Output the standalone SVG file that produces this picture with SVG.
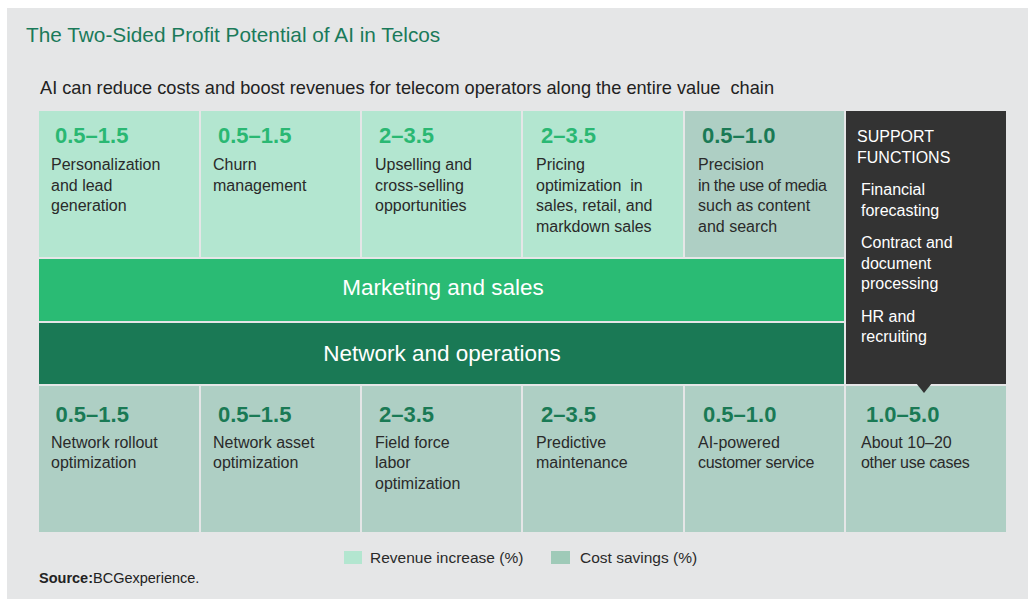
<svg xmlns="http://www.w3.org/2000/svg" width="1029" height="599" viewBox="0 0 1029 599">
<style>
text{font-family:"Liberation Sans",Arial,sans-serif}
.rev{fill:#b3e6d0}
.cost{fill:#aecfc4}
.vr{font-size:22px;font-weight:bold;fill:#2ab873}
.vc{font-size:22px;font-weight:bold;fill:#1a7a55}
.d{font-size:16px;fill:#2a2a2a}
.s{font-size:16px;fill:#ffffff}
.band{font-size:22.5px;fill:#ffffff;text-anchor:middle}
.lg{font-size:15.5px;fill:#2a2a2a}
</style>
<rect x="0" y="0" width="1029" height="599" fill="#ffffff"/>
<rect x="7" y="8" width="1021" height="591" fill="#e5e6e7"/>
<text x="26" y="42" font-size="20.8" fill="#1a7a5a">The Two-Sided Profit Potential of AI in Telcos</text>
<text x="40" y="94" font-size="18.2" fill="#222222" xml:space="preserve">AI can reduce costs and boost revenues for telecom operators along the entire value  chain</text>

<g id="top1"><rect class="rev" x="39" y="111" width="160" height="146"/>
<text class="vr" x="55" y="143">0.5–1.5</text>
<text class="d" x="51" y="170">Personalization</text><text class="d" x="51" y="190.7">and lead</text><text class="d" x="51" y="211.4">generation</text></g>
<g id="top2"><rect class="rev" x="201" y="111" width="159" height="146"/>
<text class="vr" x="218" y="143">0.5–1.5</text>
<text class="d" x="213" y="170">Churn</text><text class="d" x="213" y="190.7">management</text></g>
<g id="top3"><rect class="rev" x="362" y="111" width="159" height="146"/>
<text class="vr" x="379" y="143">2–3.5</text>
<text class="d" x="375" y="170">Upselling and</text><text class="d" x="375" y="190.7">cross-selling</text><text class="d" x="375" y="211.4">opportunities</text></g>
<g id="top4"><rect class="rev" x="523" y="111" width="160" height="146"/>
<text class="vr" x="541" y="143">2–3.5</text>
<text class="d" x="536" y="170">Pricing</text><text class="d" x="536" y="190.7" xml:space="preserve">optimization  in</text><text class="d" x="536" y="211.4">sales, retail, and</text><text class="d" x="536" y="232.1">markdown sales</text></g>
<g id="top5"><rect class="cost" x="685" y="111" width="159" height="146"/>
<text class="vc" x="702" y="143">0.5–1.0</text>
<text class="d" x="698" y="170">Precision</text><text class="d" x="698" y="190.7" letter-spacing="-0.35">in the use of media</text><text class="d" x="698" y="211.4">such as content</text><text class="d" x="698" y="232.1">and search</text></g>

<g id="support"><rect x="846" y="111" width="160" height="273" fill="#333333"/>
<text class="s" x="857" y="142">SUPPORT</text><text class="s" x="857" y="162.5">FUNCTIONS</text>
<text class="s" x="861" y="195">Financial</text><text class="s" x="861" y="215.7">forecasting</text>
<text class="s" x="861" y="247.7">Contract and</text><text class="s" x="861" y="268.5">document</text><text class="s" x="861" y="289.2">processing</text>
<text class="s" x="861" y="321.7">HR and</text><text class="s" x="861" y="342.4">recruiting</text></g>

<g id="marketing"><rect x="39" y="259" width="805" height="62" fill="#2abb74"/>
<text class="band" x="443" y="295">Marketing and sales</text></g>
<g id="network"><rect x="39" y="323" width="805" height="61" fill="#1a7955"/>
<text class="band" x="442" y="361">Network and operations</text></g>

<g id="bot1"><rect class="cost" x="39" y="386" width="160" height="146"/>
<text class="vc" x="55.5" y="422">0.5–1.5</text>
<text class="d" x="51" y="447.7">Network rollout</text><text class="d" x="51" y="468.4">optimization</text></g>
<g id="bot2"><rect class="cost" x="201" y="386" width="159" height="146"/>
<text class="vc" x="218" y="422">0.5–1.5</text>
<text class="d" x="213" y="447.7">Network asset</text><text class="d" x="213" y="468.4">optimization</text></g>
<g id="bot3"><rect class="cost" x="362" y="386" width="159" height="146"/>
<text class="vc" x="379" y="422">2–3.5</text>
<text class="d" x="375" y="447.7">Field force</text><text class="d" x="375" y="468.4">labor</text><text class="d" x="375" y="489.1">optimization</text></g>
<g id="bot4"><rect class="cost" x="523" y="386" width="160" height="146"/>
<text class="vc" x="541" y="422">2–3.5</text>
<text class="d" x="536" y="447.7">Predictive</text><text class="d" x="536" y="468.4">maintenance</text></g>
<g id="bot5"><rect class="cost" x="685" y="386" width="159" height="146"/>
<text class="vc" x="703" y="422">0.5–1.0</text>
<text class="d" x="698" y="447.7">AI-powered</text><text class="d" x="698" y="468.4" letter-spacing="-0.3">customer service</text></g>
<g id="bot6"><rect class="cost" x="846" y="386" width="160" height="146"/>
<text class="vc" x="866" y="422">1.0–5.0</text>
<text class="d" x="861" y="447.7">About 10–20</text><text class="d" x="861" y="468.4" letter-spacing="-0.3">other use cases</text></g>
<polygon points="916,383 932,383 924,393" fill="#333333"/>

<g id="legend">
<rect x="344" y="551" width="18" height="13" fill="#b3e6d0"/>
<text class="lg" x="370" y="563">Revenue increase (%)</text>
<rect x="551" y="551" width="19" height="13" fill="#9fcab8"/>
<text class="lg" x="580" y="563">Cost savings (%)</text>
</g>
<text x="39" y="583" font-size="14.5" fill="#222222"><tspan font-weight="bold">Source:</tspan><tspan>BCGexperience.</tspan></text>
</svg>
